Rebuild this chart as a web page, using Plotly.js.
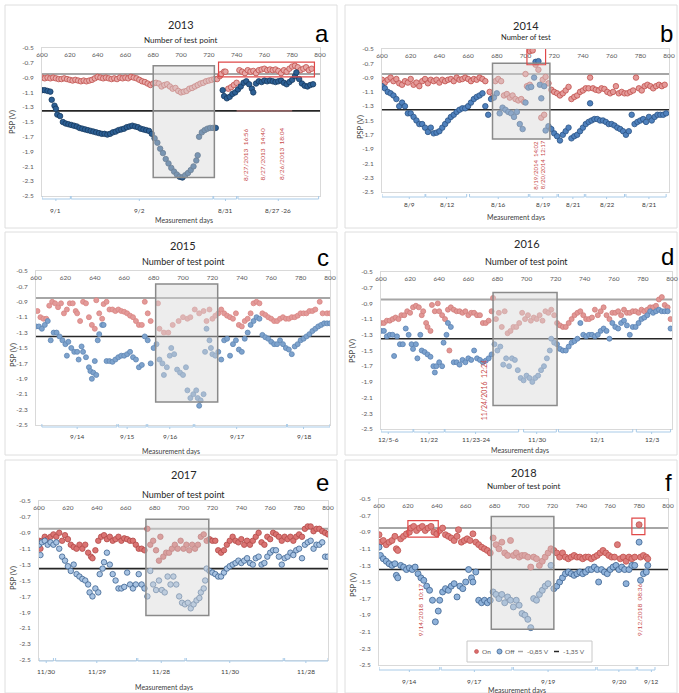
<!DOCTYPE html>
<html><head><meta charset="utf-8">
<script src="https://cdn.plot.ly/plotly-3.0.1.min.js"></script>
<style>html,body{margin:0;padding:0;background:#fff;}#chart{width:679px;height:693px;}</style>
</head><body><div id="chart"></div>
<script>
// ---------- shared tick values ----------
const xTicks = [600,620,640,660,680,700,720,740,760,780,800];
const yTicks = [-2.5,-2.3,-2.1,-1.9,-1.7,-1.5,-1.3,-1.1,-0.9,-0.7,-0.5];
const thresholds = [-0.85, -1.35];
const legendLabels = ['On','Off','-0,85 V','-1,35 V'];

// ---------- 2013 (a) ----------
const aOnX = [600,602,604,606,608,610,612,614,616,618,
620,622,624,626,628,630,632,634,636,638,
640,642,644,646,648,650,652,654,656,658,
660,662,664,666,668,670,672,674,676,678,
680,682,684,686,688,690,692,694,696,698,
700,702,704,706,708,710,712,714,716,718,
720,722,724,726,728,729,731,732,734,736,
738,740,742,744,746,748,750,752,754,756,
758,760,762,764,766,768,770,772,774,776,
778,780,782,784,786,788,790,792,794];
const aOnY = [-0.90,-0.91,-0.90,-0.91,-0.90,-0.91,-0.92,-0.92,-0.91,-0.92,
-0.93,-0.94,-0.93,-0.94,-0.95,-0.94,-0.95,-0.94,-0.93,-0.91,
-0.89,-0.90,-0.91,-0.90,-0.91,-0.92,-0.91,-0.92,-0.90,-0.91,
-0.90,-0.91,-0.89,-0.90,-0.91,-0.93,-0.95,-0.96,-0.98,-1.00,
-0.98,-0.97,-0.98,-1.02,-1.00,-0.99,-1.02,-1.05,-1.04,-1.08,
-1.10,-1.09,-1.08,-1.05,-1.04,-1.02,-1.00,-0.98,-0.97,-0.95,
-0.94,-0.93,-0.92,-0.92,-0.88,-0.85,-0.82,-0.82,-1.05,-1.03,
-1.00,-0.97,-0.80,-0.82,-0.84,-0.80,-0.82,-0.81,-0.84,-0.80,
-0.79,-0.78,-0.80,-0.79,-0.80,-0.79,-0.81,-0.84,-0.80,-0.82,
-0.78,-0.75,-0.74,-0.76,-0.80,-0.78,-0.76,-0.80,-0.78];
const aOffX = [600,602,604,606,607,609,610,611,613,615,
617,619,621,623,625,627,629,631,633,635,
637,639,641,643,645,647,649,651,653,655,
657,659,661,663,665,667,669,671,673,675,
677,679,681,683,685,687,689,691,693,695,
697,699,701,703,705,707,709,711,712,713,
715,717,719,721,723,725,730,731,733,735,
737,739,741,743,745,747,749,751,752,754,
756,758,760,762,764,766,768,770,772,774,
776,778,780,782,783,785,787,789,791,793,795];
const aOffY = [-1.07,-1.07,-1.08,-1.09,-1.20,-1.28,-1.32,-1.40,-1.42,-1.50,
-1.52,-1.53,-1.54,-1.55,-1.56,-1.58,-1.59,-1.60,-1.61,-1.62,
-1.63,-1.64,-1.65,-1.66,-1.66,-1.67,-1.66,-1.64,-1.63,-1.61,
-1.60,-1.59,-1.57,-1.56,-1.55,-1.56,-1.57,-1.59,-1.60,-1.61,
-1.62,-1.66,-1.72,-1.78,-1.86,-1.92,-2.00,-2.06,-2.12,-2.17,
-2.21,-2.24,-2.25,-2.22,-2.19,-2.15,-2.10,-2.02,-1.95,-1.70,
-1.64,-1.61,-1.59,-1.58,-1.58,-1.58,-1.07,-1.15,-1.18,-1.16,
-1.12,-1.10,-1.06,-1.02,-0.97,-0.95,-0.99,-1.05,-1.10,-0.98,
-0.95,-0.96,-0.94,-0.95,-0.94,-0.95,-0.96,-0.95,-0.94,-0.97,
-0.99,-0.96,-0.93,-0.88,-0.83,-0.92,-0.98,-1.01,-1.02,-1.00,-0.99];
const aDays = ['9/1','9/2','8/31','8/27 -26'];
const aNotes = ['8/27/2013  16:56','8/27/2013  14:40','8/26/2013  18:04'];

// ---------- 2014 (b) ----------
const bOnX = [600,602,604,606,608,610,612,614,616,618,
620,622,624,626,628,630,632,634,636,638,
640,642,644,646,648,650,652,654,656,658,
660,662,664,666,668,670,672,675,677,679,
681,683,685,687,689,691,693,695,697,699,
700,701,703,703,705,707,709,711,712,713,
714,716,718,720,722,724,726,728,730,732,
734,736,738,740,742,744,745,747,749,751,
753,755,757,759,761,763,765,767,769,771,
773,775,777,779,781,783,785,787,789,791,
793,795,797];
const bOnY = [-0.93,-0.97,-0.93,-0.90,-0.95,-0.92,-0.98,-1.00,-0.95,-0.97,
-0.92,-1.00,-0.97,-1.02,-0.95,-0.92,-0.98,-0.93,-0.95,-0.93,
-0.97,-0.93,-0.95,-0.93,-0.92,-0.95,-0.90,-0.93,-0.92,-0.90,
-0.92,-0.95,-0.92,-0.93,-0.90,-0.92,-0.95,-1.10,-1.18,-0.95,
-0.92,-0.95,-1.15,-1.13,-1.18,-1.15,-1.20,-1.22,-1.20,-1.24,
-0.85,-1.02,-1.00,-0.53,-0.52,-0.72,-0.79,-1.46,-0.93,-1.42,
-0.89,-0.98,-1.07,-1.10,-1.12,-1.15,-1.12,-1.08,-1.03,-1.20,
-1.17,-1.15,-1.10,-1.08,-1.05,-1.05,-0.90,-1.05,-1.07,-1.08,
-1.05,-1.06,-1.10,-1.12,-1.10,-1.02,-1.12,-1.10,-1.12,-1.12,
-1.10,-1.08,-0.90,-1.05,-1.08,-1.02,-1.00,-1.02,-1.05,-1.02,
-1.00,-1.02,-1.00];
const bOffX = [600,602,604,606,608,610,612,614,616,618,
620,622,624,626,628,630,632,634,636,638,
640,642,644,646,648,650,652,654,656,658,
660,662,664,666,668,670,672,674,676,678,
680,682,684,686,688,690,692,694,696,698,
700,702,704,706,707,709,710,711,713,714,
716,718,720,722,724,726,728,730,732,734,
736,738,740,742,744,745,746,748,750,752,
754,756,758,760,762,764,766,768,770,772,
774,776,778,780,782,784,786,788,790,792,
794,796,798];
const bOffY = [-1.02,-1.05,-1.10,-1.12,-1.15,-1.20,-1.30,-1.25,-1.30,-1.40,
-1.40,-1.45,-1.50,-1.55,-1.55,-1.60,-1.66,-1.60,-1.68,-1.67,
-1.65,-1.60,-1.55,-1.50,-1.45,-1.42,-1.38,-1.35,-1.33,-1.33,
-1.30,-1.25,-1.20,-1.17,-1.15,-1.12,-1.30,-1.42,-1.20,-1.18,
-1.12,-1.40,-1.32,-1.35,-1.38,-1.40,-1.45,-1.38,-1.55,-1.62,
-1.25,-1.04,-1.03,-0.90,-0.68,-0.67,-1.00,-1.19,-1.02,-1.64,
-1.58,-1.62,-1.68,-1.72,-1.78,-1.70,-1.65,-1.60,-1.75,-1.72,
-1.70,-1.65,-1.60,-1.55,-1.52,-1.26,-1.50,-1.48,-1.48,-1.50,
-1.50,-1.52,-1.55,-1.55,-1.57,-1.60,-1.62,-1.65,-1.70,-1.65,
-1.42,-1.55,-1.52,-1.50,-1.48,-1.52,-1.45,-1.50,-1.45,-1.42,
-1.42,-1.42,-1.40];
const bDays = ['8/9','8/12','8/16','8/19','8/21','8/22','8/21'];
const bNotes = ['8/19/2014  14:02','8/20/2014  12:17'];

// ---------- 2015 (c) ----------
const cOnX = [601,603,605,607,609,611,613,615,617,619,
621,623,625,627,628,630,632,634,636,638,
640,641,643,645,646,648,650,652,654,656,
658,660,662,664,666,668,670,672,674,676,
678,683,684,687,690,693,697,700,703,705,
708,711,714,716,718,720,722,724,726,728,
730,732,734,736,738,740,742,744,746,748,
750,752,754,756,758,760,762,764,766,768,
770,772,774,776,778,780,782,784,786,788,
790,793,795,798,800];
const cOnY = [-1.02,-1.10,-1.12,-1.12,-0.95,-0.90,-0.92,-0.97,-0.92,-1.05,
-1.00,-0.92,-0.92,-1.02,-1.05,-1.15,-0.90,-0.92,-1.10,-1.20,
-1.25,-0.88,-1.05,-1.12,-0.93,-0.90,-1.00,-1.00,-1.02,-1.00,
-1.02,-1.03,-1.05,-1.08,-1.10,-1.15,-1.20,-1.20,-0.90,-1.05,
-1.15,-0.92,-1.25,-1.30,-1.30,-1.20,-1.15,-1.10,-1.12,-1.10,
-1.00,-1.05,-1.02,-1.15,-1.00,-1.12,-1.08,-1.05,-1.00,-1.05,
-1.08,-1.10,-1.12,-1.05,-1.20,-1.22,-1.15,-1.12,-1.05,-0.92,
-0.90,-0.92,-1.05,-1.07,-1.10,-1.12,-1.15,-1.15,-1.12,-1.10,
-1.12,-1.12,-1.10,-1.10,-1.08,-1.05,-1.05,-1.05,-1.02,-1.02,
-1.00,-0.90,-1.05,-1.05,-1.05];
const cOffX = [600,602,604,606,608,610,612,614,616,618,
620,621,622,624,626,628,629,631,632,634,
636,637,638,639,640,641,642,643,645,646,
648,650,652,654,656,658,660,662,664,666,
668,670,672,674,676,678,680,682,684,686,
687,689,691,692,694,696,698,700,702,703,
705,707,709,710,711,712,714,715,716,718,
719,720,722,724,726,728,730,732,734,736,
738,740,742,744,746,748,750,752,754,756,
758,760,762,764,766,768,770,772,774,776,
778,780,782,784,786,788,790,792,794,796,
798,800];
const cOffY = [-1.22,-1.22,-1.25,-1.20,-1.15,-1.40,-1.30,-1.30,-1.35,-1.40,
-1.45,-1.60,-1.42,-1.50,-1.55,-1.55,-1.65,-1.48,-1.55,-1.62,
-1.75,-1.80,-1.90,-1.82,-1.67,-1.85,-1.40,-1.32,-1.20,-1.20,
-1.67,-1.67,-1.68,-1.65,-1.62,-1.60,-1.60,-1.58,-1.55,-1.62,
-1.65,-1.75,-1.72,-1.35,-1.40,-1.70,-1.50,-1.45,-1.65,-1.70,
-1.85,-1.75,-1.60,-1.50,-1.58,-1.78,-1.82,-1.85,-1.75,-2.05,
-2.15,-2.10,-2.05,-2.15,-2.25,-2.18,-2.10,-1.55,-1.25,-1.40,
-1.50,-1.58,-1.60,-1.55,-1.65,-1.40,-1.38,-1.60,-1.45,-1.40,
-1.52,-1.55,-1.38,-1.30,-1.20,-1.15,-1.10,-1.12,-1.33,-1.36,
-1.38,-1.42,-1.45,-1.45,-1.40,-1.45,-1.50,-1.52,-1.58,-1.48,
-1.45,-1.40,-1.38,-1.35,-1.32,-1.28,-1.25,-1.22,-1.20,-1.18,
-1.18,-1.18];
const cDays = ['9/14','9/15','9/16','9/17','9/18'];

// ---------- 2016 (d) ----------
const dOnX = [600,602,604,606,608,610,612,614,616,618,
620,622,624,626,628,629,631,632,634,635,
637,639,640,642,644,646,647,648,650,652,
654,656,658,660,662,664,666,668,670,672,
674,676,677,679,681,683,685,687,689,691,
693,695,697,699,701,703,705,707,709,711,
713,715,717,719,721,723,725,727,729,731,
733,735,737,739,741,743,745,747,749,751,
753,755,757,759,761,763,765,767,769,771,
773,775,777,779,781,783,785,787,789,791,
793,795,797,799];
const dOnY = [-1.15,-1.15,-1.12,-1.12,-1.10,-1.08,-1.10,-1.05,-1.05,-1.00,
-1.02,-0.95,-0.93,-0.95,-1.05,-1.00,-1.15,-1.20,-1.25,-0.92,
-1.00,-0.90,-1.00,-1.05,-1.10,-0.98,-1.50,-0.95,-0.98,-1.00,
-1.00,-1.02,-1.00,-1.05,-1.02,-1.02,-1.05,-1.05,-1.15,-1.15,
-1.12,-1.00,-0.83,-1.10,-1.02,-1.20,-1.00,-1.28,-1.25,-1.20,
-1.20,-1.15,-1.02,-1.10,-1.05,-1.12,-1.08,-1.10,-1.05,-1.12,
-1.00,-1.02,-0.98,-1.05,-1.15,-1.18,-1.20,-1.20,-1.15,-1.10,
-1.05,-1.02,-1.00,-1.05,-1.10,-1.10,-1.08,-0.98,-1.05,-1.00,
-0.95,-1.05,-1.10,-1.02,-1.02,-1.00,-1.05,-0.98,-1.02,-1.02,
-1.00,-1.00,-1.02,-0.98,-1.00,-0.98,-0.95,-0.95,-0.93,-0.85,
-0.82,-0.92,-0.95,-1.10];
const dOffX = [600,602,604,606,608,609,611,613,615,617,
619,621,622,624,625,627,628,630,632,634,
636,637,638,640,642,643,645,646,648,650,
652,654,656,658,660,662,664,666,668,670,
672,674,676,678,680,682,684,686,688,690,
692,694,696,698,700,702,704,706,708,710,
712,714,716,717,719,721,723,725,727,729,
731,733,735,737,739,741,743,745,747,749,
751,753,755,757,759,761,763,765,767,769,
771,773,775,777,779,781,783,785,787,789,
791,793,795,797,799];
const dOffY = [-1.25,-1.25,-1.32,-1.30,-1.30,-1.57,-1.32,-1.42,-1.42,-1.22,
-1.30,-1.42,-1.48,-1.42,-1.60,-1.30,-1.50,-1.52,-1.55,-1.58,
-1.70,-1.78,-1.70,-1.65,-1.70,-1.40,-1.30,-1.15,-1.20,-1.65,
-1.65,-1.68,-1.62,-1.65,-1.60,-1.62,-1.50,-1.60,-1.62,-1.65,
-1.63,-1.60,-1.55,-1.42,-1.50,-1.45,-1.68,-1.60,-1.70,-1.60,
-1.62,-1.75,-1.85,-1.88,-1.82,-1.85,-1.90,-1.85,-1.82,-1.75,
-1.70,-1.60,-1.50,-1.35,-1.40,-1.42,-1.48,-1.50,-1.50,-1.45,
-1.40,-1.38,-1.35,-1.15,-1.30,-1.32,-1.30,-1.30,-1.32,-1.30,
-1.25,-1.22,-1.25,-1.35,-1.15,-1.20,-1.22,-1.15,-1.12,-1.18,
-1.30,-1.20,-1.20,-1.15,-1.10,-1.08,-1.05,-1.00,-1.02,-1.00,
-0.98,-1.00,-1.00,-1.00,-1.22];
const dDays = ['12/5-6','11/22','11/23-24','11/30','12/1','12/3'];
const dNotes = ['11/24/2016  12:24'];

// ---------- 2017 (e) ----------
const eOnX = [600,601,602,604,606,608,610,612,614,616,
618,620,622,624,626,628,630,632,634,636,
637,639,641,643,645,647,649,651,653,655,
657,659,661,663,665,667,669,671,673,675,
677,679,681,683,684,686,688,690,692,694,
696,698,700,702,704,706,708,710,712,714,
716,718,720,722,724,726,728,730,732,734,
736,738,740,742,744,746,748,750,752,754,
756,758,760,762,764,766,768,770,772,774,
776,778,780,782,784,786,788,790,792,794,
796,798,800];
const eOnY = [-1.00,-1.10,-1.00,-0.95,-0.98,-0.95,-0.92,-0.95,-0.90,-1.00,
-0.93,-0.98,-1.05,-1.08,-1.10,-1.05,-1.10,-1.05,-1.15,-1.20,
-1.22,-1.12,-1.00,-0.95,-0.93,-0.98,-0.95,-1.00,-0.98,-0.95,
-1.00,-0.97,-0.98,-1.00,-1.00,-1.05,-1.10,-1.10,-1.12,-0.85,
-1.05,-1.00,-1.12,-1.25,-0.95,-1.20,-1.15,-1.15,-1.10,-1.05,
-1.10,-1.00,-1.10,-1.05,-1.12,-1.05,-1.10,-1.05,-0.95,-0.92,
-1.00,-0.98,-1.00,-1.00,-1.12,-1.15,-1.12,-1.05,-1.00,-0.95,
-1.00,-1.02,-0.98,-1.05,-1.00,-1.05,-1.00,-0.95,-0.90,-1.02,
-1.05,-0.95,-0.98,-0.90,-0.92,-0.95,-1.00,-0.95,-0.98,-0.95,
-1.00,-0.95,-0.92,-0.95,-0.85,-0.82,-0.82,-0.88,-0.85,-0.85,
-0.88,-0.90,-0.92];
const eOffX = [600,601,602,604,606,608,610,612,614,616,
618,620,622,624,626,628,630,632,634,635,
637,639,641,642,644,645,647,649,651,653,
655,657,659,661,663,665,667,669,671,673,
675,677,679,681,683,685,687,689,691,693,
695,697,699,701,703,705,707,709,711,712,
714,715,716,718,720,722,724,726,728,730,
732,734,736,738,740,742,744,746,748,750,
752,754,756,758,760,762,764,766,768,770,
772,774,776,778,780,782,784,786,788,790,
792,794,796,798,800];
const eOffY = [-1.05,-1.18,-1.02,-1.00,-1.05,-1.02,-1.05,-1.02,-1.10,-1.20,
-1.25,-1.32,-1.38,-1.30,-1.42,-1.45,-1.48,-1.50,-1.55,-1.65,
-1.70,-1.60,-1.65,-1.42,-1.35,-1.27,-1.15,-1.30,-1.42,-1.50,
-1.60,-1.60,-1.58,-1.40,-1.55,-1.60,-1.55,-1.42,-1.55,-1.60,
-1.70,-1.38,-1.55,-1.62,-1.50,-1.62,-1.65,-1.45,-1.55,-1.45,
-1.55,-1.70,-1.78,-1.80,-1.78,-1.85,-1.80,-1.75,-1.72,-1.65,
-1.60,-1.50,-1.35,-1.38,-1.40,-1.42,-1.45,-1.45,-1.40,-1.35,
-1.32,-1.30,-1.28,-1.25,-1.28,-1.25,-1.22,-1.28,-1.30,-1.22,
-1.20,-1.30,-1.28,-1.20,-1.15,-1.12,-1.12,-1.20,-1.30,-1.22,
-1.20,-1.15,-1.18,-1.12,-1.10,-1.22,-1.05,-1.02,-1.00,-1.10,
-1.05,-1.05,-1.02,-1.20,-1.20];
const eDays = ['11/30','11/29','11/28','11/30','11/28'];

// ---------- 2018 (f) ----------
const fOnX = [600,601,603,605,607,609,611,612,613,615,
617,619,621,622,624,626,628,630,632,634,
636,638,640,642,644,646,648,650,652,654,
655,657,659,661,663,665,667,669,671,673,
675,677,679,681,683,685,687,689,691,693,
695,697,699,701,703,705,707,709,711,713,
715,717,719,721,723,725,727,729,731,733,
735,737,739,741,743,745,747,749,751,753,
755,757,759,761,763,765,767,769,771,773,
775,777,780,781,783,785,786];
const fOnY = [-0.93,-1.02,-1.00,-1.05,-1.02,-1.00,-0.95,-1.10,-1.12,-0.98,
-0.95,-0.92,-0.90,-0.85,-0.83,-0.88,-0.85,-0.83,-0.88,-0.85,
-0.83,-0.90,-0.92,-0.88,-0.85,-0.93,-0.95,-0.97,-1.00,-0.95,
-0.87,-1.02,-1.00,-0.98,-1.00,-0.92,-1.02,-1.05,-1.08,-1.10,
-1.12,-1.15,-0.97,-1.05,-1.10,-1.02,-1.15,-1.18,-1.00,-1.18,
-1.15,-1.20,-1.18,-1.18,-1.20,-1.32,-1.20,-1.22,-1.30,-1.25,
-1.20,-1.15,-1.10,-1.12,-1.15,-1.20,-1.15,-1.20,-1.22,-1.20,
-1.18,-1.20,-1.20,-1.22,-1.20,-1.20,-1.22,-1.20,-1.18,-1.15,
-1.12,-1.15,-1.18,-1.20,-1.20,-1.05,-1.22,-1.20,-1.25,-1.20,
-1.22,-1.20,-0.81,-1.20,-1.18,-1.20,-1.22];
const fOffX = [600,601,603,605,607,609,611,612,613,615,
617,619,621,623,625,627,629,631,633,635,
637,639,641,642,644,646,648,650,652,654,
656,658,660,662,664,665,667,669,671,673,
675,677,679,681,683,685,687,689,691,693,
695,697,699,701,703,705,707,709,711,713,
715,717,719,721,723,725,727,729,731,733,
735,737,739,741,743,745,747,749,751,752,
754,756,758,760,762,764,766,768,770,771,
773,775,777,780,781,783,785,786];
const fOffY = [-1.08,-1.18,-1.22,-1.25,-1.28,-1.30,-1.28,-1.42,-1.45,-1.30,
-1.32,-1.35,-1.33,-1.35,-1.32,-1.40,-1.45,-1.48,-1.55,-1.60,
-1.72,-1.98,-1.85,-1.72,-1.62,-1.58,-1.60,-1.55,-1.52,-1.68,
-1.55,-1.58,-1.50,-1.35,-1.45,-1.50,-1.38,-1.72,-1.75,-1.72,
-1.75,-1.72,-1.62,-1.65,-1.70,-1.65,-1.75,-1.68,-1.72,-1.80,
-1.72,-1.78,-1.88,-1.90,-1.95,-2.05,-1.70,-1.72,-1.65,-1.60,
-1.55,-1.52,-1.30,-1.58,-1.55,-1.50,-1.45,-1.40,-1.38,-1.40,
-1.42,-1.40,-1.38,-1.40,-1.38,-1.35,-1.35,-1.32,-1.35,-1.50,
-1.35,-1.38,-1.40,-1.35,-1.32,-1.30,-1.35,-1.32,-1.35,-1.52,
-1.35,-1.30,-1.30,-1.02,-1.48,-1.40,-1.38,-1.30];
const fDays = ['9/14','9/17','9/19','9/20','9/12'];
const fNotes = ['9/14/2018  10:17','9/12/2018  08:36'];

// ---------- layout configuration (positions & styles) ----------
const W = 679, H = 693;
const px = v => v / W, py = v => 1 - v / H;
const RED = '#c0504d';

const panels = [
 {frame:[5,5,337,228], area:[42,320,48,196], title:'2013', tY:25, sub:'Number of test point', sY:40, subSize:8, letter:'a', lxy:[322,33],
  psp:[13,122], on:[aOnX,aOnY], off:[aOffX,aOffY],
  onC:['#e7a7a6','#c0504d'], offC:['#2c5f94','#173a60'], ms:5.5, xStand:3,
  box:[680,724,-0.74,-2.25], reds:[[727,796,-0.69,-0.89]],
  notes:aNotes, noteX:[746,758,772], noteY:154, noteSize:6.5,
  segs:[[600,620.4],[621,723],[723.5,740],[741,799]], days:aDays, dayX:[610,670,732,770], brY:199, dY:211, mXY:[184,220]},
 {frame:[345,5,677,228], area:[382,669,49,192], title:'2014', tY:26, sub:'Number of test', sY:38, subSize:7.5, letter:'b', lxy:[666,33],
  psp:[361,127], on:[bOnX,bOnY], off:[bOffX,bOffY],
  onC:['#e49a99','#c0504d'], offC:['#4f81bd','#2b5384'], ms:5.5, xStand:3,
  box:[677,717,-0.70,-1.76], reds:[[701,714,-0.49,-0.72]],
  notes:bNotes, noteX:[706.5,711.6], noteY:165, noteSize:6,
  segs:[[600,630],[630.5,659],[661,702],[703,722],[723,741],[742,769],[770,798]], days:bDays, dayX:[619,645,681,712,733,756.5,786], brY:197, dY:204, mXY:[516,217]},
 {frame:[5,232,337,455], area:[36,330,271,425], title:'2015', tY:245, sub:'Number of test point', sY:262, subSize:9, letter:'c', lxy:[323,257],
  psp:[13,355], on:[cOnX,cOnY], off:[cOffX,cOffY],
  onC:['#e39a99','#d98583'], offC:['#7ea3cd','#5f86b4'], ms:5, xStand:3,
  box:[681.4,723.6,-0.67,-2.20], reds:[],
  notes:[], noteX:[], noteY:0, noteSize:6,
  segs:[[604,655],[656,675],[676,707],[708,770.5],[771,800]], days:cDays, dayX:[628,662,691,736.5,782], brY:427, dY:436, mXY:[171,451]},
 {frame:[345,232,677,455], area:[381,672,272,429], title:'2016', tY:243, sub:'Number of test point', sY:262, subSize:9, letter:'d', lxy:[667,256],
  psp:[353,351], on:[dOnX,dOnY], off:[dOffX,dOffY],
  onC:['#e29795','#d07d7b'], offC:['#7ca2ce','#5a82b2'], ms:5, xStand:3,
  box:[677,721,-0.76,-2.20], reds:[],
  notes:dNotes, noteX:[671], noteY:390, noteSize:7,
  segs:[[600,622],[622.5,643.5],[644,694.6],[698,720.5],[722,773],[775.5,799]], days:dDays, dayX:[605,633,665,707,748.5,786], brY:432, dY:439, mXY:[520,450]},
 {frame:[5,460,337,693], area:[39,328,501,660], title:'2017', tY:474, sub:'Number of test point', sY:494, subSize:9, letter:'e', lxy:[322,482],
  psp:[13,578], on:[eOnX,eOnY], off:[eOffX,eOffY],
  onC:['#da7372','#b24a49'], offC:['#a8c3e2','#3d6391'], ms:5.5, xStand:3,
  box:[674,717.5,-0.73,-1.94], reds:[],
  notes:[], noteX:[], noteY:0, noteSize:6,
  segs:[[600,610],[611.5,667.5],[668.4,701],[702,769],[770,800]], days:eDays, dayX:[605,640,684.6,732,784.7], brY:661, dY:671, mXY:[164,687]},
 {frame:[345,460,677,693], area:[379,668,499,665], title:'2018', tY:472, sub:'Number of test point', sY:486, subSize:8, letter:'f', lxy:[668,482],
  psp:[353,585], on:[fOnX,fOnY], off:[fOffX,fOffY],
  onC:['#dc7d7c','#c0504d'], offC:['#8fb2da','#3d6391'], ms:6, xStand:3,
  box:[677.7,721,-0.71,-2.07], reds:[[620,641,-0.76,-0.96],[775,784,-0.73,-0.93]],
  notes:fNotes, noteX:[628.6,780], noteY:610, noteSize:6.5,
  segs:[[600,642],[643,692],[693,750],[751,778],[779,791]], days:fDays, dayX:[621,666,717,766,788.5], brY:670, dY:681, mXY:[517,690]}
];

const FONT = 'Lato, "Liberation Sans", Arial, sans-serif';
const layout = {
  width: W, height: H, margin:{l:0,r:0,t:0,b:0},
  paper_bgcolor:'#ffffff', plot_bgcolor:'#ffffff', showlegend:false,
  font:{family:FONT, color:'#404040'},
  shapes:[], annotations:[]
};
const traces = [];

panels.forEach((p, i) => {
  const s = i === 0 ? '' : String(i + 1);
  const xr = 'x' + s, yr = 'y' + s;
  const [ax0, ax1, ay0, ay1] = p.area;
  layout['xaxis' + s] = {
    domain:[px(ax0), px(ax1)], range:[600,800], anchor:yr, side:'top',
    tickmode:'array', tickvals:xTicks, ticktext:xTicks.map(String),
    ticks:'', showgrid:false, zeroline:false, showline:true, mirror:true,
    linecolor:'#d9d9d9', linewidth:1,
    ticklabelposition:'inside', ticklabeloverflow:'allow', ticklabelstandoff:p.xStand,
    tickfont:{size:6.5, color:'#595959', family:FONT}, fixedrange:true
  };
  layout['yaxis' + s] = {
    domain:[py(ay1), py(ay0)], range:[-2.5,-0.5], anchor:xr,
    tickmode:'array', tickvals:yTicks, ticktext:yTicks.map(v => v.toFixed(1)),
    ticks:'', showgrid:false, zeroline:false, showline:true, mirror:true,
    linecolor:'#d9d9d9', linewidth:1, ticklabelstandoff:6,
    tickfont:{size:6.5, color:'#595959', family:FONT}, fixedrange:true
  };

  // panel frame
  const [fx0, fy0, fx1, fy1] = p.frame;
  layout.shapes.push({type:'rect', xref:'paper', yref:'paper', x0:px(fx0), x1:px(fx1), y0:py(fy1), y1:py(fy0),
    line:{color:'#dedede', width:1}, layer:'below'});

  // threshold lines
  layout.shapes.push({type:'line', xref:xr, yref:yr, x0:600, x1:800, y0:thresholds[0], y1:thresholds[0],
    line:{color:'#a6a6a6', width:2}, layer:'below'});
  layout.shapes.push({type:'line', xref:xr, yref:yr, x0:600, x1:800, y0:thresholds[1], y1:thresholds[1],
    line:{color:'#262626', width:1.6}, layer:'below'});

  // series
  traces.push({type:'scatter', mode:'markers', x:p.on[0], y:p.on[1], xaxis:xr, yaxis:yr, hoverinfo:'skip',
    marker:{size:p.ms, color:p.onC[0], line:{color:p.onC[1], width:0.8}}});
  traces.push({type:'scatter', mode:'markers', x:p.off[0], y:p.off[1], xaxis:xr, yaxis:yr, hoverinfo:'skip',
    marker:{size:p.ms, color:p.offC[0], line:{color:p.offC[1], width:0.8}}});

  // highlighted window box
  layout.shapes.push({type:'rect', xref:xr, yref:yr, x0:p.box[0], x1:p.box[1], y0:p.box[3], y1:p.box[2],
    fillcolor:'rgba(215,215,215,0.45)', line:{color:'#8a8a8a', width:1.5}, layer:'above'});
  p.reds.forEach(r => layout.shapes.push({type:'rect', xref:xr, yref:yr, x0:r[0], x1:r[1], y0:r[3], y1:r[2],
    line:{color:'#e04848', width:1.2}, layer:'above'}));

  // titles
  layout.annotations.push({xref:'paper', yref:'paper', x:px((ax0+ax1)/2), y:py(p.tY), text:p.title, showarrow:false,
    font:{size:11, color:'#262626', family:FONT}, xanchor:'center', yanchor:'middle'});
  layout.annotations.push({xref:'paper', yref:'paper', x:px((ax0+ax1)/2), y:py(p.sY), text:p.sub, showarrow:false,
    font:{size:p.subSize, color:'#262626', family:FONT}, xanchor:'center', yanchor:'middle'});
  layout.annotations.push({xref:'paper', yref:'paper', x:px(p.lxy[0]), y:py(p.lxy[1]), text:p.letter, showarrow:false,
    font:{size:24, color:'#000000', family:'"Liberation Sans", Arial, sans-serif'}, xanchor:'center', yanchor:'middle'});
  layout.annotations.push({xref:'paper', yref:'paper', x:px(p.psp[0]), y:py(p.psp[1]), text:'PSP (V)', showarrow:false,
    textangle:-90, font:{size:7.5, color:'#404040', family:FONT}, xanchor:'center', yanchor:'middle'});

  // red rotated notes
  p.notes.forEach((t, k) => layout.annotations.push({xref:xr, yref:'paper', x:p.noteX[k], y:py(p.noteY), text:t,
    showarrow:false, textangle:-90, font:{size:p.noteSize, color:'#c84c4c', family:FONT}, xanchor:'center', yanchor:'middle'}));

  // measurement-day brackets
  const bc = '#a9cbe8';
  p.segs.forEach(sg => {
    layout.shapes.push({type:'line', xref:xr, yref:'paper', x0:sg[0], x1:sg[1], y0:py(p.brY), y1:py(p.brY), line:{color:bc, width:1}});
    layout.shapes.push({type:'line', xref:xr, yref:'paper', x0:sg[0], x1:sg[0], y0:py(p.brY), y1:py(p.brY-3), line:{color:bc, width:1}});
    layout.shapes.push({type:'line', xref:xr, yref:'paper', x0:sg[1], x1:sg[1], y0:py(p.brY), y1:py(p.brY-3), line:{color:bc, width:1}});
  });
  p.days.forEach((d, k) => {
    layout.shapes.push({type:'line', xref:xr, yref:'paper', x0:p.dayX[k], x1:p.dayX[k], y0:py(p.brY), y1:py(p.brY+2), line:{color:bc, width:1}});
    layout.annotations.push({xref:xr, yref:'paper', x:p.dayX[k], y:py(p.dY), text:d, showarrow:false,
      font:{size:6.5, color:'#404040', family:FONT}, xanchor:'center', yanchor:'middle'});
  });
  layout.annotations.push({xref:'paper', yref:'paper', x:px(p.mXY[0]), y:py(p.mXY[1]), text:'Measurement days', showarrow:false,
    font:{size:7, color:'#404040', family:FONT}, xanchor:'center', yanchor:'middle'});
});

// faint red segment on the -1,35 V line in panel a
layout.shapes.push({type:'line', xref:'x', yref:'y', x0:740, x1:780, y0:thresholds[1], y1:thresholds[1], line:{color:'#c98080', width:1}});

// legend of panel f (drawn by hand)
layout.shapes.push({type:'rect', xref:'paper', yref:'paper', x0:px(467), x1:px(592), y0:py(662), y1:py(641),
  fillcolor:'#ffffff', line:{color:'#c8c8c8', width:1}, layer:'above'});
layout.shapes.push({type:'circle', xref:'paper', yref:'paper', x0:px(474.5), x1:px(478.5), y0:py(653.5), y1:py(649.5),
  fillcolor:'#d96b6b', line:{color:RED, width:0.6}, layer:'above'});
layout.shapes.push({type:'circle', xref:'paper', yref:'paper', x0:px(497), x1:px(502), y0:py(654), y1:py(649),
  fillcolor:'#8fb2da', line:{color:'#3d6391', width:0.8}, layer:'above'});
layout.shapes.push({type:'line', xref:'paper', yref:'paper', x0:px(518), x1:px(523), y0:py(651.5), y1:py(651.5),
  line:{color:'#a6a6a6', width:1.5}, layer:'above'});
layout.shapes.push({type:'line', xref:'paper', yref:'paper', x0:px(554), x1:px(559), y0:py(651.5), y1:py(651.5),
  line:{color:'#262626', width:1.5}, layer:'above'});
[[480,legendLabels[0]],[503,legendLabels[1]],[525,legendLabels[2]],[561,legendLabels[3]]].forEach(([x,t]) =>
  layout.annotations.push({xref:'paper', yref:'paper', x:px(x), y:py(651.5), text:t, showarrow:false,
    font:{size:6.5, color:'#595959', family:FONT}, xanchor:'left', yanchor:'middle'}));

Plotly.newPlot('chart', traces, layout, {staticPlot:true, displayModeBar:false});
</script></body></html>
